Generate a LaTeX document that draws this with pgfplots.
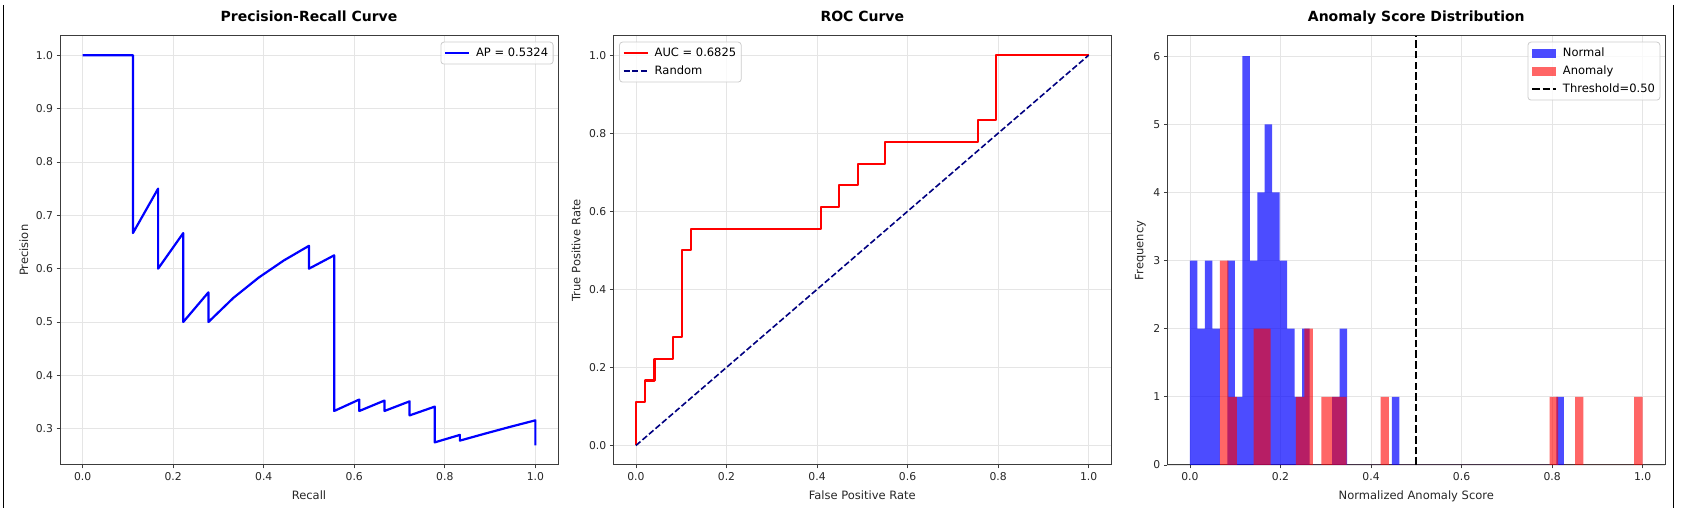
\documentclass[border=0pt]{standalone}
\usepackage{fontspec}
\setmainfont{DejaVu Sans}
\usepackage{pgfplots}
\pgfplotsset{compat=1.18}

\definecolor{navy}{RGB}{0,0,128}
\definecolor{spine}{RGB}{60,60,60}

\pgfplotsset{
  panel/.style={
    scale only axis, width=498pt, height=429.3pt,
    anchor=south west,
    xmin=-0.05, xmax=1.05,
    axis line style={spine, line width=1pt},
    tick align=outside, xtick pos=bottom, ytick pos=left,
    major tick length=3.5pt,
    tick style={spine, line width=0.8pt},
    grid=major, grid style={black!10, line width=0.8pt},
    tick label style={font=\fontsize{10.8}{12}\selectfont, text=black!85},
    /pgf/number format/assume math mode=true,
    label style={font=\fontsize{11.5}{13}\selectfont, text=black!85},
    title style={font=\fontsize{14}{16}\selectfont\bfseries, at={(axis description cs:0.5,1)}, anchor=base, yshift=8.5pt},
    xlabel style={at={(axis description cs:0.5,0)}, anchor=base, yshift=-35pt},
    legend style={font=\fontsize{11.5}{13}\selectfont, draw=black!20, rounded corners=3pt,
      fill=white, fill opacity=0.8, text opacity=1, line width=0.8pt,
      inner xsep=3pt, inner ysep=3.5pt, row sep=3pt,
      nodes={inner xsep=2pt, inner ysep=1.5pt, text height=9pt, text depth=3pt}, cells={anchor=west},
      /tikz/every odd column/.append style={column sep=4pt}},
    legend image code/.code={\draw[#1, sharp corners] (0pt,0pt) -- (24pt,0pt);},
    xtick={0,0.2,0.4,0.6,0.8,1},
    xticklabel style={/pgf/number format/fixed, /pgf/number format/fixed zerofill, /pgf/number format/precision=1},
  },
  onedec y/.style={yticklabel style={/pgf/number format/fixed, /pgf/number format/fixed zerofill, /pgf/number format/precision=1}},
}

\begin{document}
\begin{tikzpicture}
\path (0pt,0pt) rectangle (1690pt,516pt);
\draw[line width=1.2pt] (3.3pt,511pt) -- (3.3pt,8pt);
\draw[line width=1.2pt] (1673.3pt,511pt) -- (1673.3pt,8pt);

% precision-recall
\begin{axis}[panel, onedec y, at={(60pt,51pt)},
  ymin=0.2321, ymax=1.0366, ytick={0.3,0.4,0.5,0.6,0.7,0.8,0.9,1.0},
  title={Precision-Recall Curve}, xlabel={Recall}, ylabel={Precision},
  ylabel style={at={(axis description cs:-0.064,0.5)}, anchor=base},
  legend style={at={(1,1)}, anchor=north east, xshift=-4.5pt, yshift=-6pt}]
\addplot[blue, line width=2.2pt, line join=round] coordinates {
  (0,1) (0.0556,1) (0.1111,1) (0.1111,0.6667) (0.1667,0.75) (0.1667,0.6)
  (0.2222,0.6667) (0.2222,0.5) (0.2778,0.5556) (0.2778,0.5) (0.3333,0.5455)
  (0.3889,0.5833) (0.4444,0.6154) (0.5,0.6429) (0.5,0.6) (0.5556,0.625)
  (0.5556,0.3333) (0.6111,0.3548) (0.6111,0.3333) (0.6667,0.3529) (0.6667,0.3333)
  (0.7222,0.3514) (0.7222,0.325) (0.7778,0.3415) (0.7778,0.2745) (0.8333,0.2885)
  (0.8333,0.2778) (0.8889,0.2909) (0.9444,0.3036) (1.0,0.3158) (1.0,0.2687)};
\addlegendentry{AP = 0.5324}
\end{axis}

% roc
\begin{axis}[panel, onedec y, at={(613.3pt,51pt)},
  ymin=-0.05, ymax=1.05, ytick={0,0.2,0.4,0.6,0.8,1},
  title={ROC Curve}, xlabel={False Positive Rate}, ylabel={True Positive Rate},
  ylabel style={at={(axis description cs:-0.066,0.5)}, anchor=base},
  legend style={at={(0,1)}, anchor=north west, xshift=5.8pt, yshift=-6pt}]
\addplot[red, line width=2.2pt, line join=round] coordinates {
  (0,0) (0,0.1111) (0.0204,0.1111) (0.0204,0.1667) (0.0408,0.1667) (0.0408,0.2222)
  (0.0816,0.2222) (0.0816,0.2778) (0.1020,0.2778) (0.1020,0.5) (0.1224,0.5)
  (0.1224,0.5556) (0.4082,0.5556) (0.4082,0.6111) (0.4490,0.6111) (0.4490,0.6667)
  (0.4898,0.6667) (0.4898,0.7222) (0.5510,0.7222) (0.5510,0.7778) (0.7551,0.7778)
  (0.7551,0.8333) (0.7959,0.8333) (0.7959,1) (1,1)};
\addlegendentry{AUC = 0.6825}
\addplot[navy, line width=1.6pt, dash pattern=on 6pt off 2.6pt] coordinates {(0,0) (1,1)};
\addlegendentry{Random}
\end{axis}

% score histogram
\begin{axis}[panel, at={(1167.3pt,51pt)},
  ymin=0, ymax=6.3, ytick={0,1,2,3,4,5,6},
  title={Anomaly Score Distribution}, xlabel={Normalized Anomaly Score}, ylabel={Frequency},
  ylabel style={at={(axis description cs:-0.048,0.5)}, anchor=base},
  legend style={at={(1,1)}, anchor=north east, xshift=-5pt, yshift=-6pt}]
\addplot[ybar interval, fill=blue, fill opacity=0.7, draw=none,
  legend image code/.code={\fill[blue, fill opacity=0.7, sharp corners] (0pt,-4.5pt) rectangle (24pt,4.5pt);}] coordinates {
  (0.0000,3) (0.0165,2) (0.0330,3) (0.0496,2) (0.0661,0) (0.0826,3) (0.0991,1)
  (0.1156,6) (0.1322,3) (0.1487,4) (0.1652,5) (0.1817,4) (0.1982,3) (0.2148,2)
  (0.2313,1) (0.2478,2) (0.2643,0) (0.3139,1) (0.3304,2) (0.3469,0) (0.4460,1)
  (0.4625,0) (0.8095,1) (0.8260,0)};
\addlegendentry{Normal}
\addplot[ybar interval, fill=red, fill opacity=0.6, draw=none,
  legend image code/.code={\fill[red, fill opacity=0.6, sharp corners] (0pt,-4.5pt) rectangle (24pt,4.5pt);}] coordinates {
  (0.0660,3) (0.0847,1) (0.1034,0) (0.1407,2) (0.1594,2) (0.1781,0) (0.2341,1)
  (0.2528,2) (0.2715,0) (0.2902,1) (0.3088,1) (0.3275,1) (0.3462,0) (0.4209,1)
  (0.4396,0) (0.7945,1) (0.8132,0) (0.8506,1) (0.8692,0) (0.9813,1) (1.0000,0)};
\addlegendentry{Anomaly}
\addplot[black, line width=2pt, dash pattern=on 7.5pt off 3.2pt] coordinates {(0.5,0) (0.5,6.3)};
\addlegendentry{Threshold=0.50}
\end{axis}
\end{tikzpicture}
\end{document}
